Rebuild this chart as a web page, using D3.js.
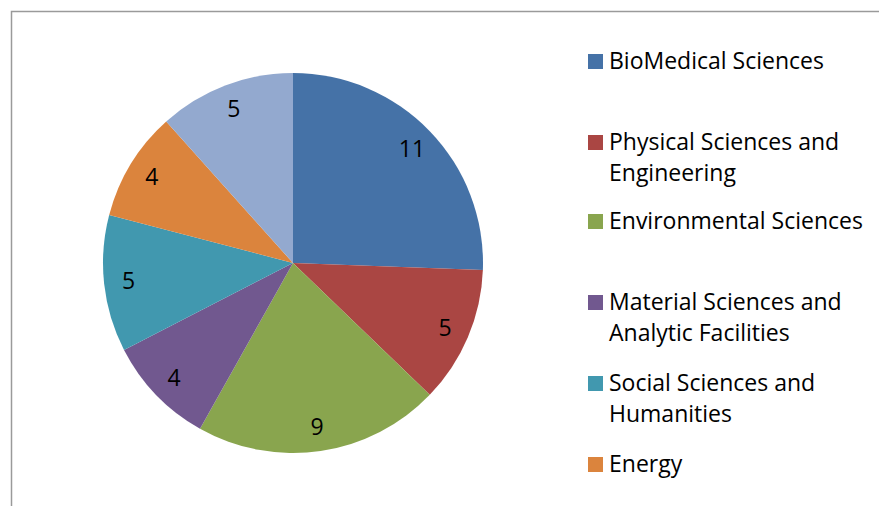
<!DOCTYPE html>
<html>
<head>
<meta charset="utf-8">
<script src="https://cdn.jsdelivr.net/npm/d3@7"></script>
<style>
  html, body { margin: 0; padding: 0; background: #fff; }
  svg { display: block; }
  text { font-family: "Open Sans", sans-serif; fill: #000; }
</style>
</head>
<body>
<div id="chart"></div>
<script>
const categories = [
    'BioMedical Sciences',
    'Physical Sciences and Engineering',
    'Environmental Sciences',
    'Material Sciences and Analytic Facilities',
    'Social Sciences and Humanities',
    'Energy',
    'Other'
];
const values = [11, 5, 9, 4, 5, 4, 5];
const legendLines = [
    ['BioMedical Sciences'],
    ['Physical Sciences and', 'Engineering'],
    ['Environmental Sciences'],
    ['Material Sciences and', 'Analytic Facilities'],
    ['Social Sciences and', 'Humanities'],
    ['Energy']
];
const colors = ['#4572A7', '#AA4643', '#89A54E', '#71588F', '#4198AF', '#DB843D', '#93A9CF'];

const width = 879, height = 506;
const cx = 293, cy = 263, radius = 190;

const svg = d3.select('#chart').append('svg')
    .attr('width', width)
    .attr('height', height);

// chart frame (runs off the right and bottom edges)
svg.append('rect')
    .attr('x', 11.5).attr('y', 11.5)
    .attr('width', width + 20).attr('height', height + 20)
    .attr('fill', 'none')
    .attr('stroke', '#9a9a9a')
    .attr('stroke-width', 1.5);

const color = d3.scaleOrdinal().domain(categories).range(colors);

const pie = d3.pie().sort(null).value(d => d.value);
const data = categories.map((c, i) => ({ name: c, value: values[i] }));
const arcs = pie(data);

const arc = d3.arc().innerRadius(0).outerRadius(radius);
const labelArc = d3.arc().innerRadius(radius * 0.87).outerRadius(radius * 0.87);

const g = svg.append('g').attr('transform', `translate(${cx},${cy})`);

g.selectAll('path.slice')
    .data(arcs)
    .enter()
    .append('path')
    .attr('class', 'slice')
    .attr('d', arc)
    .attr('fill', d => color(d.data.name));

g.selectAll('text.val')
    .data(arcs)
    .enter()
    .append('text')
    .attr('class', 'val')
    .attr('transform', d => `translate(${labelArc.centroid(d)})`)
    .attr('text-anchor', 'middle')
    .attr('dy', '0.36em')
    .style('font-size', '23px')
    .text(d => d.data.value);

// legend (the seventh entry falls below the frame, as in the source)
const legendY = [61, 142, 221, 302, 383, 464];
const legend = svg.append('g').attr('class', 'legend');

const items = legend.selectAll('.legend-item')
    .data(categories.slice(0, legendLines.length))
    .enter()
    .append('g')
    .attr('class', 'legend-item')
    .attr('transform', (d, i) => `translate(588,${legendY[i]})`);

items.append('rect')
    .attr('x', 0).attr('y', -7)
    .attr('width', 15).attr('height', 15)
    .attr('fill', d => color(d));

items.each(function(d, i) {
    const t = d3.select(this).append('text')
        .attr('x', 21)
        .attr('y', 0)
        .style('font-size', '23px');
    legendLines[i].forEach((line, j) => {
        t.append('tspan')
            .attr('x', 21)
            .attr('dy', j === 0 ? '0.36em' : '31px')
            .text(line);
    });
});
</script>
</body>
</html>
